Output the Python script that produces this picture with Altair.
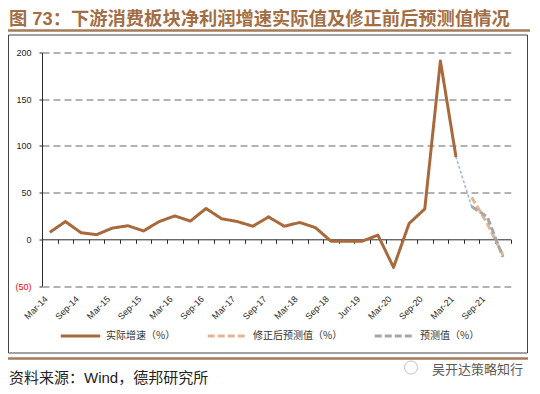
import json
import altair as alt
import pandas as pd

# ---------------- data ----------------
categories = [
    "Mar-14", "Jun-14", "Sep-14", "Dec-14", "Mar-15", "Jun-15", "Sep-15", "Dec-15",
    "Mar-16", "Jun-16", "Sep-16", "Dec-16", "Mar-17", "Jun-17", "Sep-17", "Dec-17",
    "Mar-18", "Jun-18", "Sep-18", "Dec-18", "Jun-19", "Dec-19", "Mar-20", "Jun-20",
    "Sep-20", "Dec-20", "Mar-21", "Jun-21", "Sep-21", "Dec-21",
]
label_cats = [
    "Mar-14", "Sep-14", "Mar-15", "Sep-15", "Mar-16", "Sep-16", "Mar-17", "Sep-17",
    "Mar-18", "Sep-18", "Jun-19", "Mar-20", "Sep-20", "Mar-21", "Sep-21",
]
actual_cats = categories[:27]
actual_vals = [7.5, 19, 7, 5, 12, 14.5, 9, 19, 25, 19.5, 33, 22, 19, 14, 24, 14,
               18, 12.5, -2, -2, -2, 4.5, -30, 17, 32.5, 191, 88]
revised_cats = ["Jun-21", "Sep-21", "Dec-21"]
revised_vals = [45, 17, -17]
forecast_cats = ["Jun-21", "Sep-21", "Dec-21"]
forecast_vals = [35, 24, -19]
link_cats = ["Mar-21", "Jun-21"]
link_vals = [88, 35]

series_names = ["实际增速（%）", "修正后预测值（%）", "预测值（%）"]
series_colors = ["#A86A3D", "#E2B597", "#A6A6A6"]
series_dashes = [[1, 0], [7, 3], [7, 3]]

y_ticks = [-50, 0, 50, 100, 150, 200]

title_text = "图 73：下游消费板块净利润增速实际值及修正前后预测值情况"
source_text = "资料来源：Wind，德邦研究所"
mark_text_wm = "吴开达策略知行"

rows = []
for c, v in zip(actual_cats, actual_vals):
    rows.append({"cat": c, "val": v, "series": series_names[0]})
for c, v in zip(revised_cats, revised_vals):
    rows.append({"cat": c, "val": v, "series": series_names[1]})
for c, v in zip(forecast_cats, forecast_vals):
    rows.append({"cat": c, "val": v, "series": series_names[2]})
df = pd.DataFrame(rows)
link_df = pd.DataFrame({"cat": link_cats, "val": link_vals})

# ---------------- layout ----------------
W = 468.7
H = 233.5
step = W / len(categories)
zero_off = H * 50 / 250.0

CJK = "Noto Sans CJK SC"
MIX = "Liberation Sans, 'Noto Sans CJK SC'"
NUM = "Liberation Sans"

x_enc = alt.X(
    "cat:O",
    sort=categories,
    scale=alt.Scale(type="point", domain=categories, padding=0.5),
    axis=alt.Axis(
        title=None,
        orient="bottom",
        offset=-zero_off,
        grid=False,
        domainColor="#2b2b2b",
        domainWidth=1,
        tickColor="#2b2b2b",
        tickSize=4,
        tickWidth=1,
        tickOffset=step / 2,
        labelOffset=-step / 2 - 7,
        labelAngle=-45,
        labelAlign="right",
        labelBaseline="top",
        labelPadding=51,
        labelFont=NUM,
        labelFontSize=9,
        labelColor="#1f1f1f",
        labelOverlap=False,
        labelBound=False,
        labelExpr="indexof(" + json.dumps(label_cats) + ", datum.value) >= 0 ? datum.value : ''",
    ),
)

y_enc = alt.Y(
    "val:Q",
    scale=alt.Scale(domain=[-50, 200], nice=False, zero=False),
    axis=alt.Axis(
        title=None,
        values=y_ticks,
        domainColor="#2b2b2b",
        domainWidth=1,
        tickColor="#2b2b2b",
        tickSize=3,
        labelPadding=8,
        labelFont=NUM,
        labelFontSize=9,
        labelColor={"condition": {"test": "datum.value < 0", "value": "#FF0000"}, "value": "#1f1f1f"},
        labelExpr="datum.value < 0 ? '(' + (-datum.value) + ')' : '' + datum.value",
        grid=True,
        gridDash=[7, 4],
        gridWidth=1,
        gridColor={"condition": {"test": "datum.value === 0", "value": "transparent"}, "value": "#666666"},
    ),
)

legend = alt.Legend(
    title=None,
    orient="none",
    legendX=17,
    legendY=261.75,
    direction="horizontal",
    symbolType="stroke",
    symbolSize=1560,
    symbolStrokeWidth=3,
    labelFont=CJK,
    labelFontSize=10,
    labelColor="#333333",
    labelOffset=4,
    columnPadding=25,
    padding=0,
    labelLimit=0,
)

link = alt.Chart(link_df).mark_line(
    color="#9FB4D4", strokeWidth=1.6, strokeDash=[1.5, 3.5], strokeCap="round"
).encode(x=x_enc, y=y_enc)

lines = alt.Chart(df).mark_line(strokeWidth=3, strokeJoin="round").encode(
    x=x_enc,
    y=y_enc,
    color=alt.Color("series:N", scale=alt.Scale(domain=series_names, range=series_colors), legend=legend),
    strokeDash=alt.StrokeDash("series:N", scale=alt.Scale(domain=series_names, range=series_dashes), legend=legend),
)

one = alt.Data(values=[{"k": 1}])

title_mark = alt.Chart(one).mark_text(
    text=title_text, align="left", baseline="alphabetic", font=MIX,
    fontSize=18.3, fontWeight="bold", color="#A26E45",
).encode(x=alt.value(-33), y=alt.value(-27.5))

top_rule = alt.Chart(one).mark_rule(color="#A57B58", strokeWidth=2.5).encode(
    x=alt.value(-34), x2=alt.value(488), y=alt.value(-22)
)

box = alt.Chart(one).mark_rect(filled=False, stroke="#444444", strokeWidth=1).encode(
    x=alt.value(-33.5), x2=alt.value(485.5), y=alt.value(-17.5), y2=alt.value(300.5)
)

bottom_rule = alt.Chart(one).mark_rule(color="#A57B58", strokeWidth=2.5).encode(
    x=alt.value(-34), x2=alt.value(486), y=alt.value(306)
)

source_mark = alt.Chart(one).mark_text(
    text=source_text, align="left", baseline="alphabetic", font=MIX,
    fontSize=15, color="#222222",
).encode(x=alt.value(-33), y=alt.value(330))

wm_mark = alt.Chart(one).mark_text(
    text=mark_text_wm, align="left", baseline="alphabetic", font=CJK,
    fontSize=13, color="#5a5a5a",
).encode(x=alt.value(390), y=alt.value(321))

wm_icon = alt.Chart(one).mark_point(
    shape="circle", size=170, filled=False, stroke="#aaaaaa", strokeWidth=1
).encode(x=alt.value(369), y=alt.value(315))

chart = alt.layer(
    link, lines, title_mark, top_rule, box, bottom_rule, source_mark, wm_mark, wm_icon
).properties(
    width=W,
    height=H,
    padding={"left": 34, "top": 44.5, "right": 21.3, "bottom": 100},
    autosize=alt.AutoSizeParams(type="none"),
    background="white",
).configure_view(stroke=None)

chart.save("out.html", embed_options={"renderer": "svg", "actions": False})
